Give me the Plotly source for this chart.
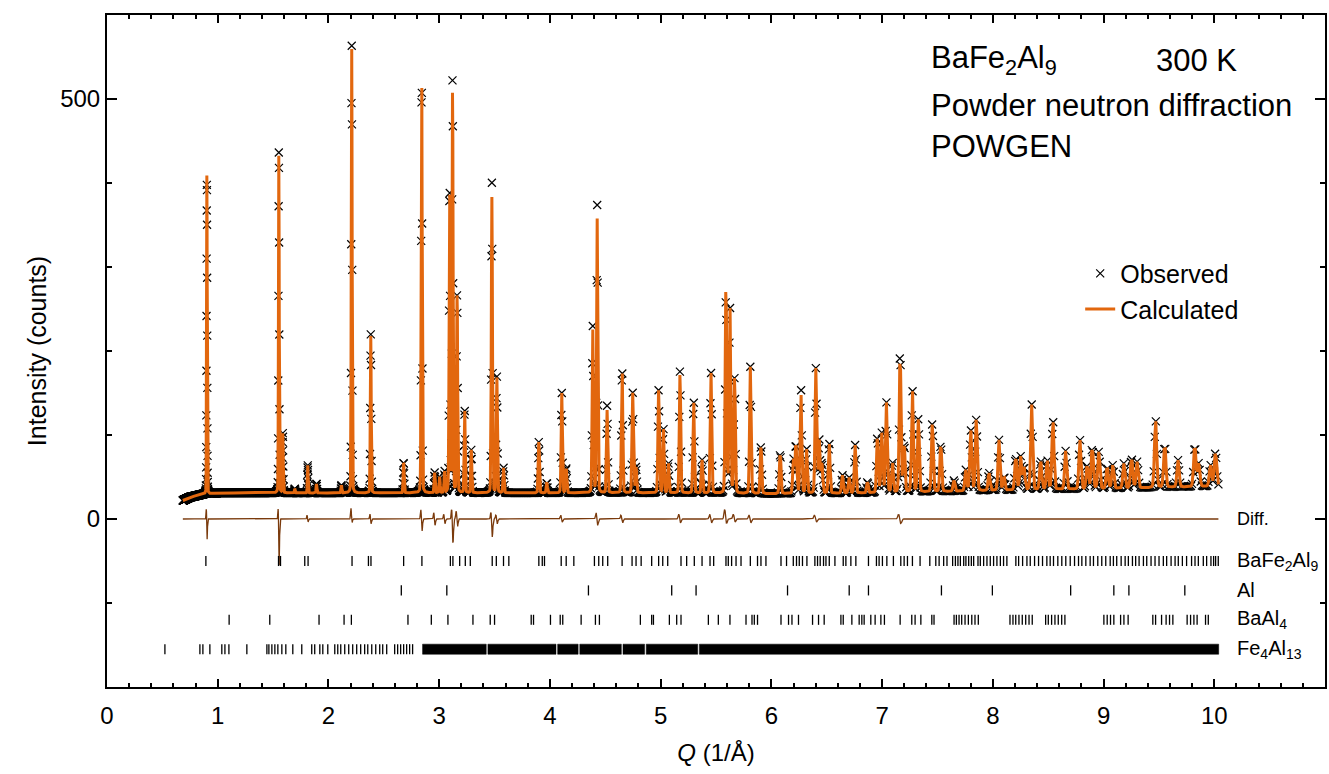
import numpy as np
import plotly.graph_objects as go

# ---------------- data ----------------
q_start, q_end = 0.685, 10.04

# background nodes (Q, counts)
bg_q = [0.685, 0.75, 0.85, 1.0, 1.5, 2.0, 3.0, 4.0, 5.0, 6.0, 7.0, 8.0, 9.0, 10.04]
bg_i = [22, 26, 29, 31, 31, 31, 31, 31, 31, 30, 31, 34, 36, 39]

# peak positions and peak-top intensities (calculated / observed)
peak_q = [0.902, 1.552, 1.588, 1.696, 1.813, 1.892, 2.117, 2.210, 2.382, 2.679, 2.842,
          2.959, 3.004, 3.049, 3.094, 3.121, 3.162, 3.230, 3.290, 3.476, 3.521, 3.581,
          3.900, 3.972, 4.107, 4.147, 4.387, 4.427, 4.517, 4.652, 4.748, 4.778, 4.982,
          5.025, 5.070, 5.175, 5.298, 5.374, 5.455, 5.590, 5.626, 5.668, 5.810, 5.906,
          6.080, 6.200, 6.222, 6.267, 6.318, 6.402, 6.432, 6.456, 6.522, 6.642, 6.703,
          6.757, 6.868, 6.958, 6.998, 7.039, 7.093, 7.163, 7.199, 7.274, 7.328, 7.454,
          7.530, 7.650, 7.756, 7.801, 7.851, 7.966, 8.056, 8.101, 8.207, 8.252, 8.281,
          8.351, 8.432, 8.492, 8.543, 8.658, 8.787, 8.853, 8.898, 8.958, 9.033, 9.084,
          9.184, 9.253, 9.304, 9.470, 9.553, 9.673, 9.824, 9.860, 9.966, 10.011]
peak_calc = [411, 436, 102, 36, 64, 42, 40, 560, 218, 68, 534,
             55, 50, 56, 400, 512, 270, 132, 82, 383, 168, 61,
             92, 43, 150, 61, 225, 357, 130, 181, 150, 62, 154,
             108, 67, 173, 142, 70, 174, 281, 253, 169, 181, 88,
             79, 70, 90, 150, 83, 179, 94, 67, 92, 52, 49,
             88, 44, 99, 102, 138, 68, 197, 90, 153, 120, 115,
             90, 46, 58, 106, 119, 55, 94, 50, 74, 74, 62,
             136, 70, 70, 118, 81, 94, 64, 86, 80, 62, 64,
             66, 73, 68, 118, 89, 70, 88, 66, 64, 80]
peak_obs = [400, 440, 102, 36, 64, 42, 40, 564, 220, 68, 528,
            55, 50, 56, 402, 527, 270, 132, 82, 400, 169, 61,
            92, 43, 150, 61, 229, 373, 135, 181, 150, 62, 154,
            108, 67, 177, 142, 70, 174, 268, 253, 169, 181, 88,
            79, 70, 90, 156, 83, 179, 94, 67, 92, 52, 49,
            88, 44, 99, 102, 138, 68, 204, 90, 153, 120, 115,
            90, 46, 58, 106, 119, 55, 94, 50, 74, 74, 62,
            136, 70, 70, 118, 81, 94, 64, 86, 80, 62, 64,
            66, 73, 68, 118, 89, 70, 88, 66, 64, 80]

# difference-curve features (position, upward and downward excursion)
diff_q = [0.902, 1.552, 1.813, 2.210, 2.382, 2.842, 2.959, 3.049, 3.121, 3.162, 3.476,
          3.521, 4.107, 4.427, 4.652, 5.175, 5.455, 5.590, 5.668, 5.810, 6.402, 7.163]
diff_up = [13, 14, 5, 13, 6, 12, 8, 6, 13, 10, 9, 5, 5, 8, 5, 6, 6, 12, 6, 5, 5, 6]
diff_dn = [25, 56, 4, 5, 6, 15, 8, 6, 30, 10, 22, 6, 4, 8, 5, 5, 5, 6, 4, 5, 4, 6]

# reflection markers
ticks_bafe2al9 = [0.893, 1.549, 1.567, 1.786, 1.816, 2.213, 2.361, 2.384, 2.679, 2.844, 3.101,
                  3.124, 3.185, 3.236, 3.281, 3.479, 3.516, 3.581, 3.629, 3.900, 3.931, 3.951,
                  4.102, 4.147, 4.216, 4.402, 4.441, 4.477, 4.522, 4.652, 4.742, 4.778, 4.824,
                  4.919, 4.982, 5.019, 5.064, 5.184, 5.235, 5.304, 5.374, 5.446, 5.479, 5.590,
                  5.611, 5.641, 5.681, 5.726, 5.810, 5.875, 5.906, 5.951, 6.087, 6.137, 6.198,
                  6.227, 6.252, 6.281, 6.321, 6.393, 6.417, 6.441, 6.471, 6.493, 6.523, 6.574,
                  6.649, 6.673, 6.718, 6.763, 6.877, 6.949, 6.973, 7.003, 7.043, 7.102, 7.169,
                  7.199, 7.229, 7.274, 7.343, 7.431, 7.485, 7.515, 7.556, 7.586, 7.637, 7.662,
                  7.685, 7.707, 7.737, 7.757, 7.782, 7.806, 7.827, 7.866, 7.887, 7.917, 7.947,
                  7.977, 8.007, 8.037, 8.068, 8.097, 8.127, 8.208, 8.233, 8.269, 8.308, 8.338,
                  8.377, 8.413, 8.449, 8.488, 8.518, 8.548, 8.587, 8.623, 8.659, 8.699, 8.738,
                  8.774, 8.804, 8.840, 8.879, 8.909, 8.948, 8.984, 9.020, 9.060, 9.089, 9.119,
                  9.159, 9.195, 9.224, 9.261, 9.290, 9.321, 9.360, 9.390, 9.429, 9.465, 9.501,
                  9.540, 9.570, 9.610, 9.646, 9.675, 9.712, 9.750, 9.795, 9.826, 9.856, 9.901,
                  9.931, 9.970, 9.994, 10.012, 10.036]
ticks_al = [2.658, 3.069, 4.348, 5.100, 5.320, 6.146, 6.703, 6.877, 7.536, 7.996, 8.703,
            9.093, 9.229, 9.734]
ticks_baal4 = [1.103, 1.470, 1.915, 2.141, 2.207, 2.718, 2.929, 3.079, 3.305, 3.461, 3.500,
               3.831, 3.852, 4.005, 4.093, 4.116, 4.282, 4.411, 4.447, 4.817, 4.919, 4.935,
               5.079, 5.145, 5.184, 5.431, 5.521, 5.626, 5.771, 5.825, 5.846, 5.875, 6.087,
               6.155, 6.186, 6.245, 6.372, 6.426, 6.477, 6.628, 6.649, 6.727, 6.793, 6.817,
               6.838, 6.898, 6.937, 6.989, 7.021, 7.163, 7.268, 7.298, 7.350, 7.449, 7.469,
               7.650, 7.671, 7.695, 7.719, 7.749, 7.779, 7.810, 7.839, 7.869, 8.155, 8.182,
               8.207, 8.236, 8.266, 8.297, 8.327, 8.356, 8.477, 8.501, 8.531, 8.561, 8.591,
               8.622, 8.651, 9.003, 9.033, 9.063, 9.093, 9.154, 9.184, 9.222, 9.445, 9.470,
               9.524, 9.565, 9.596, 9.626, 9.755, 9.786, 9.816, 9.845, 9.921, 9.946]
ticks_fe4al13 = [0.523, 0.839, 0.866, 0.929, 1.037, 1.065, 1.101, 1.263, 1.444, 1.462, 1.489,
                 1.516, 1.543, 1.579, 1.615, 1.678, 1.759, 1.849, 1.876, 1.922, 1.949, 1.994,
                 2.057, 2.084, 2.111, 2.147, 2.183, 2.219, 2.255, 2.291, 2.327, 2.355, 2.391,
                 2.427, 2.463, 2.490, 2.526, 2.598, 2.625, 2.652, 2.679, 2.706, 2.733, 2.760]
# ranges where Fe4Al13 reflections are unresolved (solid band)
fe4al13_band_start = [2.850, 3.440, 4.070, 4.270, 4.660, 4.870, 5.350]
fe4al13_band_end = [3.425, 4.055, 4.255, 4.645, 4.855, 5.335, 10.040]

phase_names = ["BaFe<sub>2</sub>Al<sub>9</sub>", "Al", "BaAl<sub>4</sub>", "Fe<sub>4</sub>Al<sub>13</sub>"]
phase_rows = [-50, -85, -120, -155]

# ---------------- build profiles ----------------
n_pts = int(np.log(q_end / q_start) / np.log(1.001)) + 1
Q = q_start * 1.001 ** np.arange(n_pts)
Q = Q[Q <= q_end]

bg = np.interp(Q, bg_q, bg_i)


def pv(dx, w):
    s = w / 2.3548
    return 0.88 * np.exp(-0.5 * (dx / s) ** 2) + 0.12 / (1 + (2 * dx / w) ** 2)


def width(q):
    return 0.005 + 0.0019 * q


calc = bg.copy()
obs = bg.copy()
for q, hc, ho in zip(peak_q, peak_calc, peak_obs):
    b = np.interp(q, bg_q, bg_i)
    shape = pv(Q - q, width(q))
    calc += (hc - b) * shape
    obs += (ho - b) * shape

diff = np.zeros_like(Q)
for q, up, dn in zip(diff_q, diff_up, diff_dn):
    w = width(q)
    s = w / 2.3548
    diff += up * np.exp(-0.5 * ((Q - q + 0.7 * w) / s) ** 2)
    diff -= dn * np.exp(-0.5 * ((Q - q - 0.3 * w) / s) ** 2)

# ---------------- figure ----------------
FONT = "Liberation Sans, Arial, sans-serif"
ORANGE = "#E2670E"
BROWN = "#7A3A0C"

fig = go.Figure()
fig.add_trace(go.Scatter(
    x=Q, y=obs, mode="markers", name="Observed",
    marker=dict(symbol="x-thin", size=8, color="black", line=dict(width=1.2, color="black")),
    hoverinfo="skip"))
fig.add_trace(go.Scatter(
    x=Q, y=calc, mode="lines", name="Calculated",
    line=dict(color=ORANGE, width=3), hoverinfo="skip"))
fig.add_trace(go.Scatter(
    x=Q, y=diff, mode="lines", name="Diff.", showlegend=False,
    line=dict(color=BROWN, width=1.3), hoverinfo="skip"))

half = 6
for qs, yc in zip([ticks_bafe2al9, ticks_al, ticks_baal4, ticks_fe4al13], phase_rows):
    xs, ys = [], []
    for q in qs:
        xs += [q, q, None]
        ys += [yc - half, yc + half, None]
    fig.add_trace(go.Scatter(x=xs, y=ys, mode="lines", showlegend=False,
                             line=dict(color="black", width=1.3), hoverinfo="skip"))

# dense Fe4Al13 band
bx, by = [], []
yc = phase_rows[3]
for a, b in zip(fe4al13_band_start, fe4al13_band_end):
    bx += [a, b, b, a, a, None]
    by += [yc - half, yc - half, yc + half, yc + half, yc - half, None]
fig.add_trace(go.Scatter(x=bx, y=by, mode="lines", fill="toself", fillcolor="black",
                         line=dict(color="black", width=0.5), showlegend=False, hoverinfo="skip"))

# labels at right
annotations = [dict(x=0.926, y=0, xref="paper", yref="y", text="Diff.", showarrow=False,
                    xanchor="left", yanchor="middle", font=dict(size=18, family=FONT, color="black"))]
for name, yc in zip(phase_names, phase_rows):
    annotations.append(dict(x=0.926, y=yc, xref="paper", yref="y", text=name, showarrow=False,
                            xanchor="left", yanchor="middle",
                            font=dict(size=20, family=FONT, color="black")))

big = dict(size=31, family=FONT, color="black")
annotations += [
    dict(x=0.675, y=0.933, xref="paper", yref="paper", text="BaFe<sub>2</sub>Al<sub>9</sub>",
         showarrow=False, xanchor="left", yanchor="middle", font=big),
    dict(x=0.860, y=0.933, xref="paper", yref="paper", text="300 K",
         showarrow=False, xanchor="left", yanchor="middle", font=big),
    dict(x=0.675, y=0.866, xref="paper", yref="paper", text="Powder neutron diffraction",
         showarrow=False, xanchor="left", yanchor="middle", font=big),
    dict(x=0.675, y=0.804, xref="paper", yref="paper", text="POWGEN",
         showarrow=False, xanchor="left", yanchor="middle", font=big),
]

axis_common = dict(showline=True, linewidth=2, linecolor="black", mirror="ticks",
                   showgrid=False, zeroline=False, ticks="inside", tickwidth=1.5,
                   tickcolor="black", tickfont=dict(size=24, family=FONT, color="black"))

fig.update_layout(
    width=1329, height=774,
    margin=dict(l=107, r=2, t=15, b=87),
    paper_bgcolor="white", plot_bgcolor="white",
    font=dict(family=FONT, color="black"),
    annotations=annotations,
    legend=dict(x=0.799, y=0.589, xanchor="left", yanchor="middle",
                bgcolor="rgba(0,0,0,0)", borderwidth=0,
                font=dict(size=25, family=FONT, color="black"), tracegroupgap=0),
    xaxis=dict(range=[0, 11], dtick=1, tick0=0, ticklen=8, ticklabelstandoff=6,
               minor=dict(dtick=0.2, ticks="inside", ticklen=4, tickwidth=1.5, tickcolor="black"),
               title=dict(text="<i>Q</i> (1/Å)", font=dict(size=24, family=FONT), standoff=16),
               **axis_common),
    yaxis=dict(range=[-200, 600], dtick=500, tick0=0, ticklen=10,
               minor=dict(dtick=100, ticks="inside", ticklen=5, tickwidth=1.5, tickcolor="black"),
               title=dict(text="Intensity (counts)", font=dict(size=25, family=FONT), standoff=6),
               **axis_common),
)

fig.write_html("out.html", config={"displayModeBar": False},
               post_script="document.body.style.margin='0px';")
